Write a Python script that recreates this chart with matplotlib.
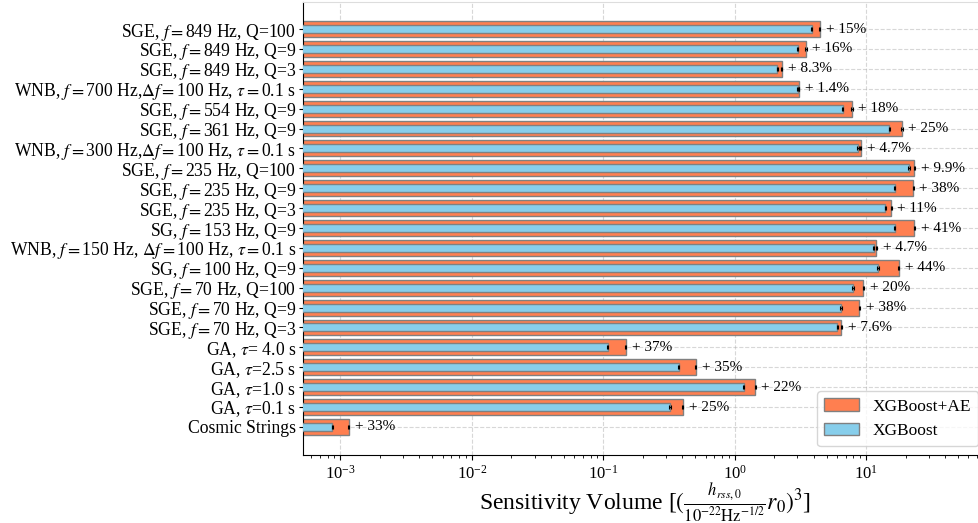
import matplotlib.pyplot as plt
import numpy as np

plt.rcParams['font.family'] = ['Liberation Serif', 'DejaVu Serif']
plt.rcParams['mathtext.fontset'] = 'stix'

# signal labels, top to bottom
labels = [
    r"SGE, $f=$849 Hz, Q=100",
    r"SGE, $f=$849 Hz, Q=9",
    r"SGE, $f=$849 Hz, Q=3",
    r"WNB, $f=$700 Hz,$\Delta f=$100 Hz, $\tau=$0.1 s",
    r"SGE, $f=$554 Hz, Q=9",
    r"SGE, $f=$361 Hz, Q=9",
    r"WNB, $f=$300 Hz,$\Delta f=$100 Hz, $\tau=$0.1 s",
    r"SGE, $f=$235 Hz, Q=100",
    r"SGE, $f=$235 Hz, Q=9",
    r"SGE, $f=$235 Hz, Q=3",
    r"SG, $f=$153 Hz, Q=9",
    r"WNB, $f=$150 Hz, $\Delta f=$100 Hz, $\tau=$0.1 s",
    r"SG, $f=$100 Hz, Q=9",
    r"SGE, $f=$70 Hz, Q=100",
    r"SGE, $f=$70 Hz, Q=9",
    r"SGE, $f=$70 Hz, Q=3",
    r"GA, $\tau$= 4.0 s",
    r"GA, $\tau$=2.5 s",
    r"GA, $\tau$=1.0 s",
    r"GA, $\tau$=0.1 s",
    "Cosmic Strings",
]

# sensitivity volumes
ae_vol = [4.43, 3.49, 2.28, 3.07, 7.80, 18.7, 9.08, 23.3, 22.8, 15.5, 23.3,
          11.95, 17.7, 9.52, 8.87, 6.48, 0.148, 0.505, 1.43, 0.402, 0.00116]
xgb_vol = [3.85, 3.01, 2.11, 3.03, 6.61, 15.0, 8.67, 21.2, 16.5, 14.0, 16.5,
           11.4, 12.3, 7.93, 6.43, 6.02, 0.108, 0.374, 1.17, 0.322, 0.00087]
ae_err = [0.05, 0.04, 0.02, 0.04, 0.09, 0.2, 0.1, 0.25, 0.25, 0.17, 0.25,
          0.13, 0.19, 0.1, 0.1, 0.07, 0.0015, 0.005, 0.015, 0.004, 0.00001]
xgb_err = [0.04, 0.03, 0.02, 0.03, 0.07, 0.16, 0.09, 0.22, 0.18, 0.15, 0.18,
           0.12, 0.13, 0.08, 0.07, 0.06, 0.001, 0.004, 0.012, 0.003, 0.00001]
gains = ["15%", "16%", "8.3%", "1.4%", "18%", "25%", "4.7%", "9.9%", "38%",
         "11%", "41%", "4.7%", "44%", "20%", "38%", "7.6%", "37%", "35%",
         "22%", "25%", "33%"]

n = len(labels)
y = np.arange(n)[::-1]

fig = plt.figure(figsize=(9.79, 5.23), dpi=100)
ax = fig.add_axes([303 / 979, 68 / 523, (987 - 303) / 979, 453 / 523])

ax.barh(y, ae_vol, height=0.8, color='#FF7F50', edgecolor='grey',
        linewidth=1, label='XGBoost+AE', zorder=2)
ax.barh(y, xgb_vol, height=0.4, color='skyblue', edgecolor='grey',
        linewidth=1, label='XGBoost', zorder=3)
ax.errorbar(ae_vol, y, xerr=ae_err, fmt='none', ecolor='black',
            elinewidth=0.8, capsize=1.2, capthick=0.8, zorder=4)
ax.errorbar(xgb_vol, y, xerr=xgb_err, fmt='none', ecolor='black',
            elinewidth=0.8, capsize=1.2, capthick=0.8, zorder=4)

for i in range(n):
    ax.annotate("+ " + gains[i], (ae_vol[i] + ae_err[i], y[i]),
                xytext=(4, 0), textcoords='offset points',
                ha='left', va='center', fontsize=11)

ax.set_xscale('log')
ax.set_xlim(5.2e-4, 83)
ax.set_ylim(-1.41, n - 1 + 1.36)
ax.set_yticks(y)
ax.set_yticklabels(labels, fontsize=12.7)
ax.tick_params(axis='y', length=3, pad=2)
ax.tick_params(axis='x', labelsize=12)
ax.set_xlabel(r"Sensitivity Volume [$(\frac{h_{rss,0}}{10^{-22}\mathrm{Hz}^{-1/2}}r_0)^3$]",
              fontsize=17, labelpad=-1)
ax.grid(True, which='major', linestyle='--', alpha=0.5)
ax.set_axisbelow(True)
ax.spines['right'].set_visible(False)
ax.spines['top'].set_color('#dddddd')

ax.legend(loc='lower right', fontsize=12.5)

plt.savefig('out.png', dpi=100)
